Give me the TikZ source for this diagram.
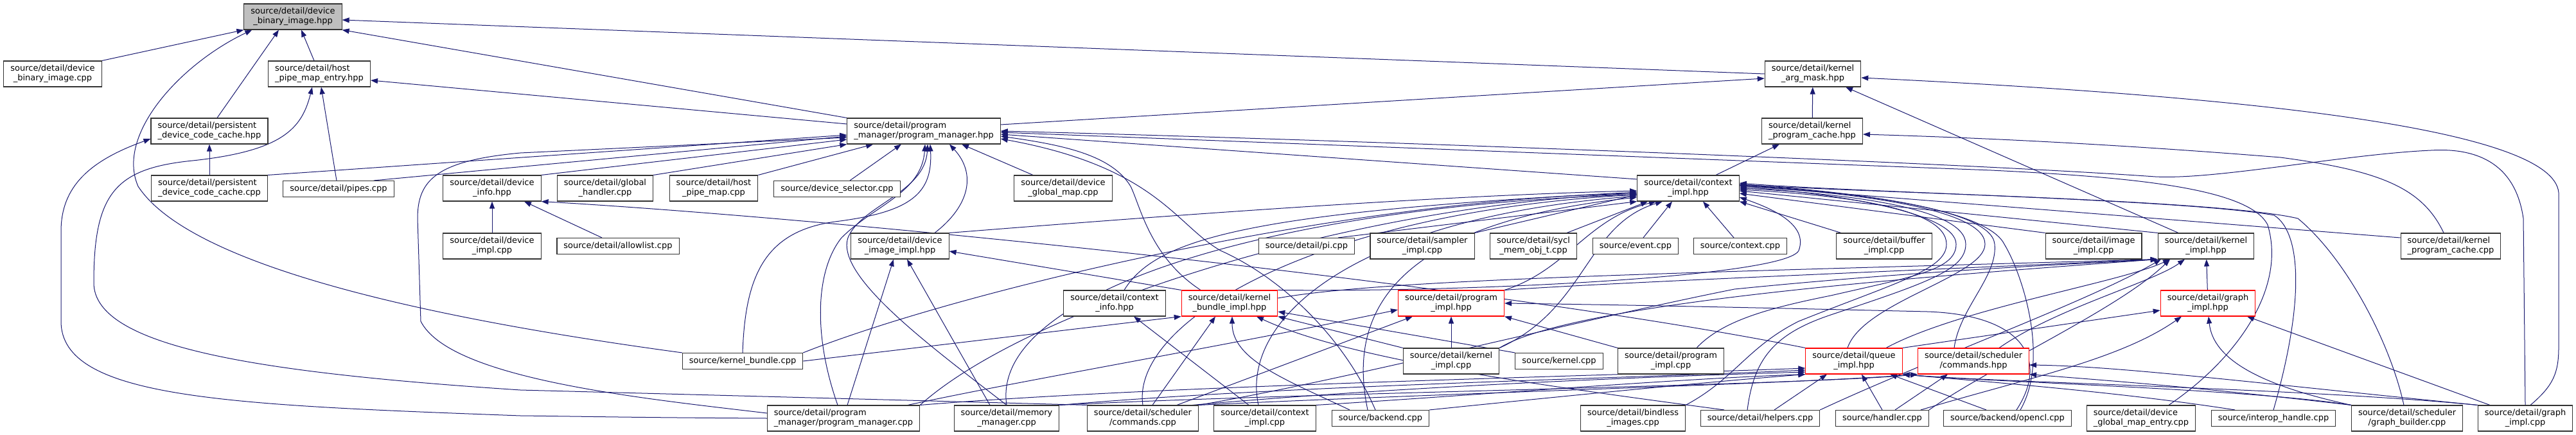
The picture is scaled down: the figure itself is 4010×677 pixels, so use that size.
\documentclass[tikz,border=0pt]{standalone}
\usepackage{fontspec}
\setmainfont{DejaVu Sans}
\usetikzlibrary{arrows.meta}
\definecolor{edgecol}{HTML}{191970}
\definecolor{rootfill}{HTML}{BFBFBF}
\definecolor{boxline}{HTML}{333333}
\pgfdeclarelayer{bg}
\pgfsetlayers{bg,main}
\newlength\lblw
\newlength\lblwb
\newcommand\lbl[2]{\settowidth\lblw{#1}\settowidth\lblwb{#2}\ifdim\lblwb>\lblw\lblw=\lblwb\fi
  \begin{tabular}{@{}c@{}}\makebox[\lblw][l]{#1}\\\makebox[\lblw][c]{#2}\end{tabular}}
\newcommand\one[1]{\begin{tabular}{@{}c@{}}#1\end{tabular}}
\begin{document}
\begin{tikzpicture}[x=1pt,y=-1pt,
  box/.style={draw=boxline, line width=1.1pt, fill=white, inner xsep=10.5pt, inner ysep=5pt, font=\fontsize{13}{15}\selectfont},
  trunc/.style={box, draw=red},
  root/.style={box, fill=rootfill},
  lnk/.style={draw=edgecol, line width=1pt, -{Triangle[length=11pt,width=8pt]}}]
\useasboundingbox (0,0) rectangle (4010,677);
% rank 0-2
\node[root] (n0) at (456,26) {\lbl{source/detail/device}{\_binary\_image.hpp}};
\node[box] (dbicpp) at (82,115) {\lbl{source/detail/device}{\_binary\_image.cpp}};
\node[box] (hpme) at (497,115) {\lbl{source/detail/host}{\_pipe\_map\_entry.hpp}};
\node[box] (kam) at (2822,115) {\lbl{source/detail/kernel}{\_arg\_mask.hpp}};
\node[box] (pdcch) at (326,204) {\lbl{source/detail/persistent}{\_device\_code\_cache.hpp}};
\node[box] (pmh) at (1438,204) {\lbl{source/detail/program}{\_manager/program\_manager.hpp}};
\node[box] (kpch) at (2821,204) {\lbl{source/detail/kernel}{\_program\_cache.hpp}};
% rank 3
\node[box] (pdccc) at (326,293) {\lbl{source/detail/persistent}{\_device\_code\_cache.cpp}};
\node[box] (pipes) at (527,294) {\one{source/detail/pipes.cpp}};
\node[box] (dinfo) at (766,293) {\lbl{source/detail/device}{\_info.hpp}};
\node[box] (ghandler) at (942,293) {\lbl{source/detail/global}{\_handler.cpp}};
\node[box] (hpmap) at (1111,293) {\lbl{source/detail/host}{\_pipe\_map.cpp}};
\node[box] (dsel) at (1303,294) {\one{source/device\_selector.cpp}};
\node[box] (dgmap) at (1655,293) {\lbl{source/detail/device}{\_global\_map.cpp}};
\node[box] (ctxh) at (2628,293) {\lbl{source/detail/context}{\_impl.hpp}};
% rank 4
\node[box] (dimpl) at (766,383) {\lbl{source/detail/device}{\_impl.cpp}};
\node[box] (allow) at (962,383) {\one{source/detail/allowlist.cpp}};
\node[box] (diih) at (1401,383) {\lbl{source/detail/device}{\_image\_impl.hpp}};
\node[box] (pinode) at (2034,383) {\one{source/detail/pi.cpp}};
\node[box] (sampler) at (2214,383) {\lbl{source/detail/sampler}{\_impl.cpp}};
\node[box] (syclmem) at (2387,383) {\lbl{source/detail/sycl}{\_mem\_obj\_t.cpp}};
\node[box] (event) at (2546,383) {\one{source/event.cpp}};
\node[box] (context) at (2709,383) {\one{source/context.cpp}};
\node[box] (buffer) at (2933,383) {\lbl{source/detail/buffer}{\_impl.cpp}};
\node[box] (image) at (3259,383) {\lbl{source/detail/image}{\_impl.cpp}};
\node[box] (kih) at (3434,383) {\lbl{source/detail/kernel}{\_impl.hpp}};
\node[box] (kpcc) at (3815,383) {\lbl{source/detail/kernel}{\_program\_cache.cpp}};
% rank 5
\node[box] (ctxinfo) at (1735,472) {\lbl{source/detail/context}{\_info.hpp}};
\node[trunc] (kbih) at (1914,472) {\lbl{source/detail/kernel}{\_bundle\_impl.hpp}};
\node[trunc] (progh) at (2259,472) {\lbl{source/detail/program}{\_impl.hpp}};
\node[trunc] (graphh) at (3437,472) {\lbl{source/detail/graph}{\_impl.hpp}};
% rank 6
\node[box] (kbcpp) at (1156,562) {\one{source/kernel\_bundle.cpp}};
\node[box] (kicpp) at (2259,562) {\lbl{source/detail/kernel}{\_impl.cpp}};
\node[box] (kernel) at (2427,562) {\one{source/kernel.cpp}};
\node[box] (progcpp) at (2601,562) {\lbl{source/detail/program}{\_impl.cpp}};
\node[trunc] (queueh) at (2886,562) {\lbl{source/detail/queue}{\_impl.hpp}};
\node[trunc] (cmdh) at (3072,562) {\lbl{source/detail/scheduler}{/commands.hpp}};
% rank 7
\node[box] (pmcpp) at (1313,651) {\lbl{source/detail/program}{\_manager/program\_manager.cpp}};
\node[box] (memmgr) at (1567,651) {\lbl{source/detail/memory}{\_manager.cpp}};
\node[box] (cmdcpp) at (1779,651) {\lbl{source/detail/scheduler}{/commands.cpp}};
\node[box] (ctxcpp) at (1969,651) {\lbl{source/detail/context}{\_impl.cpp}};
\node[box] (backend) at (2149,651) {\one{source/backend.cpp}};
\node[box] (bindless) at (2542,651) {\lbl{source/detail/bindless}{\_images.cpp}};
\node[box] (helpers) at (2740,651) {\one{source/detail/helpers.cpp}};
\node[box] (handler) at (2930,651) {\one{source/handler.cpp}};
\node[box] (opencl) at (3125,651) {\one{source/backend/opencl.cpp}};
\node[box] (dgme) at (3333,651) {\lbl{source/detail/device}{\_global\_map\_entry.cpp}};
\node[box] (interop) at (3539,651) {\one{source/interop\_handle.cpp}};
\node[box] (gbuild) at (3747,651) {\lbl{source/detail/scheduler}{/graph\_builder.cpp}};
\node[box] (graphcpp) at (3931,651) {\lbl{source/detail/graph}{\_impl.cpp}};

\begin{pgfonlayer}{bg}
% -> device_binary_image.hpp
\draw[lnk] (dbicpp.north east) -- (n0.south west);
\draw[lnk] (kbcpp.north west) .. controls (700,500) and (300,420) .. (215,290) .. controls (180,210) and (280,100) .. ([xshift=13pt]n0.south west);
\draw[lnk] ([xshift=12pt]pdcch.north) -- ([xshift=-22pt]n0.south);
\draw[lnk] ([xshift=-8pt]hpme.north) -- ([xshift=13pt]n0.south);
\draw[lnk] (kam.west) -- ([yshift=-5pt]n0.east);
\draw[lnk] (pmh.north west) -- (n0.south east);
% -> host_pipe_map_entry.hpp
\draw[lnk] ([yshift=11pt]pmh.west) -- ([yshift=-10pt]hpme.east);
\draw[lnk] ([xshift=-3pt]pipes.north) -- ([xshift=3pt]hpme.south);
\draw[lnk] (cmdcpp.north west) .. controls (1300,620) and (1000,612) .. (810,607) .. controls (400,580) and (146,540) .. (146,440) .. controls (146,300) and (180,262) .. (300,250) .. controls (440,235) and (470,200) .. ([xshift=-11pt]hpme.south);
% -> kernel_arg_mask.hpp
\draw[lnk] ([yshift=10pt]pmh.east) -- ([yshift=-7pt]kam.west);
\draw[lnk] (kpch) -- (kam);
\draw[lnk] ([xshift=8pt]graphcpp.north) .. controls (3975,600) and (3983,580) .. (3983,540) -- (3983,300) .. controls (3975,200) and (3500,150) .. ([yshift=-6pt]kam.east);
\draw[lnk] ([xshift=-43pt]kih.north) -- ([xshift=51pt]kam.south);
% -> persistent_device_code_cache.hpp
\draw[lnk] (pdccc) -- (pdcch);
\draw[lnk] (pmcpp.west) .. controls (1000,650) and (900,648) .. (810,647) .. controls (350,630) and (95,620) .. (95,500) -- (95,360) .. controls (95,290) and (140,250) .. ([yshift=-12pt]pdcch.west);
% -> program_manager.hpp
\draw[lnk] (pdccc.north east) -- ([yshift=-6pt]pmh.west);
\draw[lnk] ([xshift=55pt]pipes.north) -- ([yshift=-8pt]pmh.west);
\draw[lnk] ([yshift=8pt]pmcpp.west) .. controls (1000,620) and (700,590) .. (655,500) -- (650,340) .. controls (650,280) and (680,250) .. (810,238) -- ([yshift=-10pt]pmh.west);
\draw[lnk] (dinfo.north east) -- ([yshift=-13pt]pmh.west);
\draw[lnk] (ghandler.north east) -- (pmh.south west);
\draw[lnk] (hpmap.north east) -- ([xshift=41pt]pmh.south west);
\draw[lnk] ([xshift=20pt]dsel.north) -- ([xshift=-35pt]pmh.south);
\draw[lnk] (kbcpp.north) .. controls (1160,430) and (1190,360) .. (1300,345) .. controls (1420,330) and (1452,300) .. ([xshift=10pt]pmh.south);
\draw[lnk] ([xshift=-9pt]pmcpp.north) .. controls (1265,520) and (1270,420) .. (1310,370) .. controls (1360,320) and (1435,300) .. ([xshift=2pt]pmh.south);
\draw[lnk] (memmgr.north) .. controls (1450,540) and (1300,430) .. (1320,370) .. controls (1340,320) and (1440,300) .. ([xshift=6pt]pmh.south);
\draw[lnk] ([xshift=54pt]diih.north) .. controls (1510,320) and (1520,270) .. ([xshift=40pt]pmh.south);
\draw[lnk] ([xshift=-47pt]dgmap.north) -- ([xshift=59pt]pmh.south);
\draw[lnk] (ctxh.170) -- ([yshift=-5pt]pmh.east);
\draw[lnk] (graphcpp.north) -- (3928,340) .. controls (3915,250) and (3850,230) .. (3784,234) .. controls (3650,240) and (3450,280) .. (3355,275) .. controls (3000,250) and (2000,215) .. (pmh.east);
\draw[lnk] ([xshift=43pt]dgme.north) .. controls (3480,560) and (3560,450) .. (3530,350) .. controls (3500,290) and (3300,275) .. (3100,265) -- ([yshift=-2pt]pmh.east);
\draw[lnk] ([xshift=-45pt]kbih.north) .. controls (1790,400) and (1775,320) .. (1760,290) .. controls (1730,240) and (1650,225) .. ([yshift=-8pt]pmh.east);
\draw[lnk] ([xshift=-8pt]backend.north) .. controls (2090,520) and (1990,430) .. (1900,390) .. controls (1830,350) and (1800,260) .. ([yshift=-12pt]pmh.east);
% -> kernel_program_cache.hpp
\draw[lnk] ([xshift=43pt]ctxh.north) -- ([xshift=-51pt]kpch.south);
\draw[lnk] ([xshift=-11pt]kpcc.north) .. controls (3770,290) and (3700,265) .. (3550,245) .. controls (3300,225) and (3100,215) .. ([yshift=-5pt]kpch.east);
% -> device_info.hpp
\draw[lnk] (dimpl) -- (dinfo);
\draw[lnk] ([xshift=-25pt]allow.north) -- ([xshift=50pt]dinfo.south);
\draw[lnk] (queueh.north west) .. controls (2300,440) and (1300,340) .. (dinfo.south east);
% -> context_impl.hpp (left bundle)
\draw[lnk] (diih.north east) .. controls (1700,345) and (2200,305) .. ([yshift=-4pt]ctxh.west);
\draw[lnk] ([xshift=15pt]ctxinfo.north) .. controls (1800,370) and (1950,330) .. ([yshift=-6pt]ctxh.west);
\draw[lnk] (kbcpp.north east) .. controls (1500,450) and (2100,310) .. ([yshift=-8pt]ctxh.west);
\draw[lnk] (pmcpp.north east) .. controls (1600,480) and (2100,320) .. ([yshift=-8pt]ctxh.west);
\draw[lnk] (memmgr.north) .. controls (1540,450) and (2000,320) .. ([yshift=-10pt]ctxh.west);
\draw[lnk] (cmdcpp.north) .. controls (1760,500) and (2050,330) .. ([yshift=-10pt]ctxh.west);
\draw[lnk] ([xshift=-10pt]ctxcpp.north) .. controls (1930,500) and (2100,340) .. ([yshift=-12pt]ctxh.west);
\draw[lnk] ([xshift=-20pt]backend.north) .. controls (2100,500) and (2150,350) .. ([yshift=-14pt]ctxh.west);
% -> context_impl.hpp (below)
\draw[lnk] ([xshift=49pt]pinode.north) -- (ctxh.south west);
\draw[lnk] (sampler.north east) -- ([yshift=-10pt]ctxh.west);
\draw[lnk] ([xshift=52pt]syclmem.north) -- ([xshift=-63pt]ctxh.south);
\draw[lnk] ([xshift=12pt]event.north) -- ([xshift=-25pt]ctxh.south);
\draw[lnk] ([xshift=-10pt]context.north) -- ([xshift=23pt]ctxh.south);
\draw[lnk] (kicpp.north east) .. controls (2470,480) and (2468,350) .. ([xshift=-40pt]ctxh.south);
\draw[lnk] (progh.north east) .. controls (2440,420) and (2470,340) .. ([xshift=-50pt]ctxh.south);
% -> context_impl.hpp (right)
\draw[lnk] ([xshift=-67pt]buffer.north) -- (ctxh.south east);
\draw[lnk] (image.north west) -- ([yshift=-8pt]ctxh.east);
\draw[lnk] (kih.north west) -- ([yshift=-4pt]ctxh.east);
\draw[lnk] ([yshift=13pt]kpcc.west) -- ([yshift=4pt]ctxh.east);
\draw[lnk] ([xshift=-5pt]gbuild.north) .. controls (3720,530) and (3650,400) .. (3577,340) .. controls (3450,310) and (2900,300) .. ([yshift=6pt]ctxh.east);
\draw[lnk] (interop.north) .. controls (3590,460) and (3580,360) .. (3540,335) .. controls (3400,310) and (2900,300) .. ([yshift=8pt]ctxh.east);
\draw[lnk] (kbih.north east) .. controls (2300,455) and (2780,430) .. (2800,390) .. controls (2815,350) and (2760,325) .. ([yshift=-14pt]ctxh.east);
\draw[lnk] (bindless.north east) .. controls (2700,590) and (2720,540) .. (2800,500) .. controls (2950,440) and (3030,420) .. (3030,380) .. controls (3030,320) and (2850,303) .. ([yshift=-2pt]ctxh.east);
\draw[lnk] ([xshift=-20pt]helpers.north) .. controls (2730,560) and (2760,520) .. (2850,490) .. controls (3000,440) and (3060,420) .. (3060,380) .. controls (3060,320) and (2850,300) .. (ctxh.east);
\draw[lnk] ([xshift=40pt]progcpp.north) .. controls (2680,500) and (2750,480) .. (2850,460) .. controls (2980,430) and (3045,420) .. (3045,380) .. controls (3045,330) and (2850,300) .. ([yshift=2pt]ctxh.east);
\draw[lnk] ([xshift=-10pt]queueh.north) .. controls (2900,470) and (3090,430) .. (3090,380) .. controls (3090,320) and (2850,298) .. ([yshift=4pt]ctxh.east);
\draw[lnk] ([xshift=20pt]opencl.north) .. controls (3190,560) and (3150,430) .. (3120,380) .. controls (3090,320) and (2850,296) .. ([yshift=6pt]ctxh.east);
\draw[lnk] ([xshift=-30pt]cmdh.north) .. controls (3050,480) and (3110,430) .. (3105,380) .. controls (3100,320) and (2850,297) .. ([yshift=5pt]ctxh.east);
% -> device_image_impl.hpp
\draw[lnk] ([xshift=6pt]pmcpp.north) -- ([xshift=-10pt]diih.south);
\draw[lnk] ([xshift=-26pt]memmgr.north) -- ([xshift=11pt]diih.south);
\draw[lnk] (kbih.north west) -- ([yshift=-8pt]diih.east);
% -> kernel_impl.hpp
\draw[lnk] ([yshift=8pt]kbih.east) .. controls (2150,435) and (2600,425) .. (kih.south west);
\draw[lnk] (progh.north east) .. controls (2500,440) and (3000,420) .. (kih.south west);
\draw[lnk] (kicpp.north east) .. controls (2450,470) and (3000,430) .. (kih.south west);
\draw[lnk] (cmdcpp.north east) .. controls (2100,590) and (2450,500) .. (2700,450) .. controls (3000,420) and (3250,410) .. (kih.south west);
\draw[lnk] ([xshift=50pt]queueh.north) .. controls (3050,480) and (3300,440) .. ([xshift=-56pt]kih.south);
\draw[lnk] ([xshift=40pt]cmdh.north) .. controls (3200,480) and (3350,440) .. ([xshift=-33pt]kih.south);
\draw[lnk] (handler.north east) .. controls (3100,570) and (3300,480) .. ([xshift=-56pt]kih.south);
\draw[lnk] (helpers.north east) .. controls (3000,560) and (3250,470) .. ([xshift=-70pt]kih.south);
\draw[lnk] (graphh) -- (kih);
% -> context_info.hpp
\draw[lnk] ([xshift=-25pt]ctxcpp.north) -- ([xshift=30pt]ctxinfo.south);
% -> kernel_bundle_impl.hpp
\draw[lnk] (kbcpp.east) -- (kbih.south west);
\draw[lnk] ([xshift=15pt]cmdcpp.north) -- ([xshift=-22pt]kbih.south);
\draw[lnk] ([xshift=-48pt]backend.north) .. controls (2000,590) and (1918,560) .. ([xshift=4pt]kbih.south);
\draw[lnk] ([xshift=-56pt]helpers.north) .. controls (2400,600) and (2100,560) .. ([xshift=42pt]kbih.south);
\draw[lnk] (kicpp.north west) -- (kbih.south east);
\draw[lnk] (kernel.north west) -- ([yshift=-13pt]kbih.east);
% -> program_impl.hpp
\draw[lnk] ([xshift=100pt]pmcpp.north) .. controls (1600,590) and (1900,540) .. ([yshift=-10pt]progh.west);
\draw[lnk] (kicpp) -- (progh);
\draw[lnk] (progcpp.north west) -- (progh.south east);
\draw[lnk] ([xshift=53pt]cmdcpp.north) -- ([xshift=-60pt]progh.south);
\draw[lnk] ([xshift=14pt]opencl.north) .. controls (3190,560) and (3150,490) .. (3000,485) .. controls (2700,478) and (2500,474) .. (progh.east);
% -> graph_impl.hpp
\draw[lnk] (queueh.north east) -- ([yshift=-11pt]graphh.west);
\draw[lnk] ([xshift=60pt]handler.north) .. controls (3150,590) and (3300,560) .. ([xshift=-41pt]graphh.south);
\draw[lnk] ([xshift=-87pt]gbuild.north) .. controls (3520,600) and (3445,560) .. ([xshift=1pt]graphh.south);
\draw[lnk] ([xshift=-55pt]graphcpp.north) -- ([xshift=61pt]graphh.south);
% -> queue_impl.hpp
\draw[lnk] (pmcpp.north east) .. controls (1800,600) and (2500,585) .. ([yshift=-11pt]queueh.west);
\draw[lnk] (memmgr.north east) .. controls (2000,600) and (2500,590) .. ([yshift=-14pt]queueh.west);
\draw[lnk] ([xshift=-10pt]cmdcpp.north east) .. controls (2200,600) and (2600,585) .. ([yshift=-17pt]queueh.west);
\draw[lnk] (ctxcpp.north east) .. controls (2300,615) and (2600,590) .. (queueh.south west);
\draw[lnk] (backend.north east) .. controls (2400,620) and (2650,595) .. (queueh.south west);
\draw[lnk] ([xshift=22pt]helpers.north) -- ([xshift=-42pt]queueh.south);
\draw[lnk] (handler.north) -- ([xshift=12pt]queueh.south);
\draw[lnk] ([xshift=-33pt]opencl.north) -- ([xshift=56pt]queueh.south);
\draw[lnk] ([xshift=-60pt]interop.north) .. controls (3300,610) and (3100,595) .. (queueh.south east);
\draw[lnk] (gbuild.north west) .. controls (3500,605) and (3100,595) .. (queueh.south east);
\draw[lnk] (graphcpp.north west) .. controls (3600,605) and (3100,595) .. (queueh.south east);
% -> scheduler/commands.hpp
\draw[lnk] (cmdcpp.north east) .. controls (2300,610) and (2800,597) .. (cmdh.south west);
\draw[lnk] (memmgr.north east) .. controls (2000,612) and (2800,600) .. (cmdh.south west);
\draw[lnk] ([xshift=20pt]handler.north) -- ([xshift=-40pt]cmdh.south);
\draw[lnk] (gbuild.north west) .. controls (3400,600) and (3250,590) .. (cmdh.south east);
\draw[lnk] (graphcpp.north west) .. controls (3500,595) and (3300,570) .. ([yshift=-6pt]cmdh.east);
\end{pgfonlayer}
\end{tikzpicture}
\end{document}
